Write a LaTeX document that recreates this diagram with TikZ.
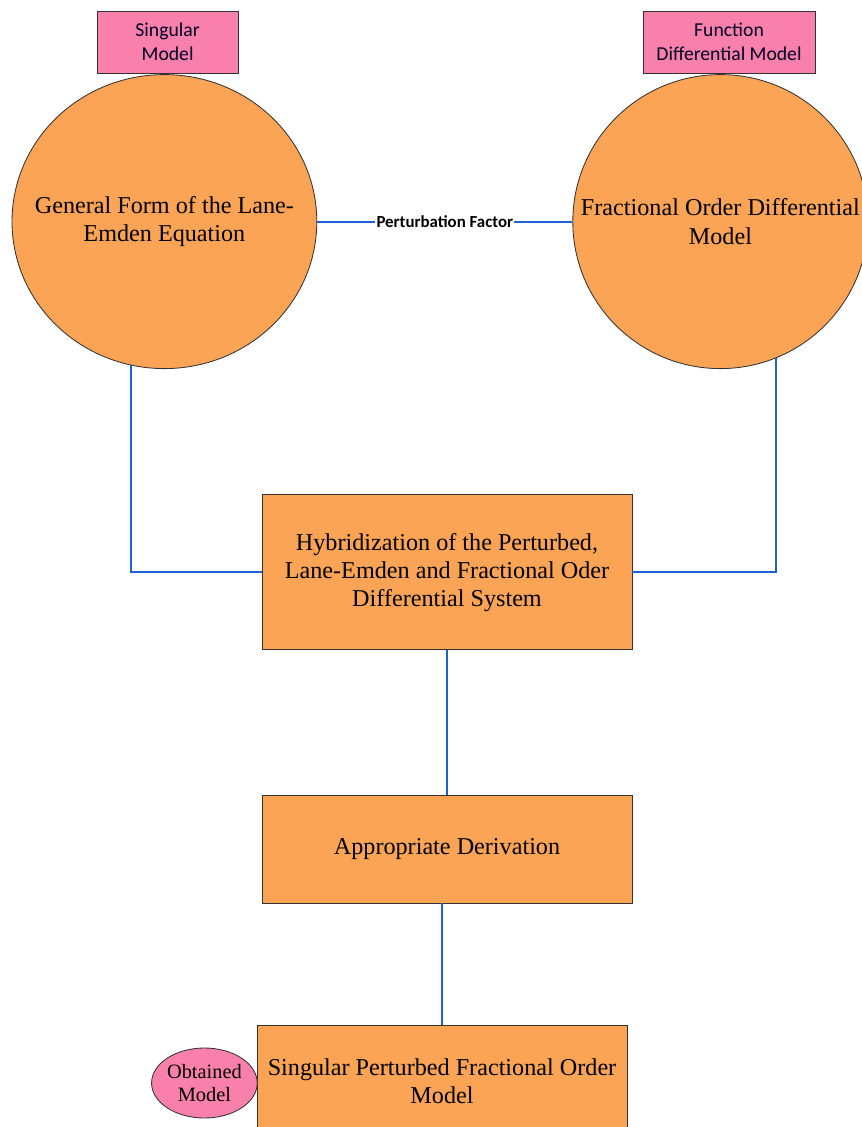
\documentclass[tikz,border=0pt]{standalone}
\usepackage{fontspec}
\setmainfont{Liberation Serif}
\newfontfamily\tagfamily{Carlito}
\usetikzlibrary{shapes}
\definecolor{boxorange}{RGB}{251,164,86}
\definecolor{tagpink}{RGB}{248,128,170}
\definecolor{linkblue}{RGB}{28,98,214}
\newcommand{\boxfont}{\fontsize{17.2}{20}\selectfont}
\newcommand{\tagfont}{\tagfamily\fontsize{14}{17}\selectfont}

\begin{document}
\begin{tikzpicture}[
  stepbox/.style={draw=black!80,fill=boxorange,rectangle,align=center,font=\boxfont,line width=0.6pt,minimum width=9.25cm},
  roundbox/.style={draw=black!80,fill=boxorange,ellipse,align=center,font=\boxfont,line width=0.6pt,inner xsep=-2.2cm,inner ysep=0pt,minimum width=7.62cm,minimum height=7.35cm},
  tagbox/.style={draw=black!80,fill=tagpink,rectangle,align=center,font=\tagfont,text=black!85!blue,line width=0.6pt,minimum height=1.55cm},
  link/.style={draw=linkblue,line width=1.4pt}]
\useasboundingbox (0,0) rectangle (21.525,-28.175);

\node[tagbox,minimum width=3.525cm] (sing) at (4.19,-1.05) {Singular\\Model};
\node[tagbox,minimum width=4.3cm] (func) at (18.225,-1.05) {Function\\Differential Model};
\node[roundbox] (lane) at (4.11,-5.54) {General Form of the Lane-\\Emden Equation};
\node[roundbox,minimum width=7.38cm] (frac) at (18.01,-5.54) {Fractional Order Differential\\Model};
\node[stepbox,minimum height=3.875cm] (hyb) at (11.175,-14.31) {Hybridization of the Perturbed,\\Lane-Emden and Fractional Oder\\Differential System};
\node[stepbox,minimum height=2.7cm] (deriv) at (11.175,-21.225) {Appropriate Derivation};
\node[stepbox,minimum height=2.8cm] (final) at (11.05,-27.025) {Singular Perturbed Fractional Order\\Model};
\node[draw=black!80,fill=tagpink,ellipse,align=center,line width=0.6pt,inner sep=0pt,
  minimum width=2.625cm,minimum height=1.75cm,font=\fontsize{14.5}{16}\selectfont] (obt) at (5.11,-27.075) {Obtained\\Model};

\path[link] (lane) edge node[fill=white,inner sep=1pt,font=\tagfamily\bfseries\fontsize{12}{14}\selectfont] {Perturbation Factor} (frac);
\draw[link] (lane.257) |- (hyb.west);
\draw[link] (frac.292) |- (hyb.east);
\draw[link] (hyb.south) -- (deriv.north);
\draw[link] (final.north) -- (final.north |- deriv.south);
\end{tikzpicture}
\end{document}
